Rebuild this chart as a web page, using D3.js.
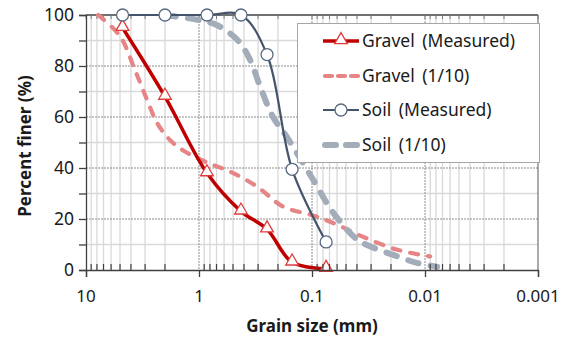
<!DOCTYPE html>
<html>
<head>
<meta charset="utf-8">
<script src="https://cdn.jsdelivr.net/npm/d3@7"></script>
<style>
  html, body { margin: 0; padding: 0; background: #fff; }
  svg { display: block; font-family: 'Noto Sans', 'DejaVu Sans', sans-serif; }
</style>
</head>
<body>
<svg id="chart" width="568" height="340"></svg>
<script>
// sieve sizes (mm) and % finer
const sieveSizes = [4.75, 2.0, 0.85, 0.425, 0.25, 0.15, 0.075];
const gravelMeasured = [95, 68, 38, 23, 16, 3, 0.5];
const soilMeasured = [100, 100, 100, 100, 84.5, 39.5, 11];

const gravelScaledSize = [7.8, 5.0, 3.7, 2.9, 2.37, 1.9, 1.45, 0.855, 0.53, 0.306, 0.181, 0.098, 0.06, 0.0375, 0.0178, 0.009];
const gravelScaledPct = [100, 91.7, 78.6, 67, 58, 52, 47.5, 42.2, 38.6, 32.7, 24.9, 21.4, 17.8, 13.5, 8, 5.3];

const soilScaledSize = [2.0, 1.0, 0.69, 0.452, 0.354, 0.288, 0.221, 0.166, 0.098, 0.065, 0.040, 0.0307, 0.0177, 0.0118, 0.0078];
const soilScaledPct = [100, 98, 96, 90, 82.5, 72, 60, 52, 35.5, 22.5, 12, 9.3, 5.4, 2.8, 1.3];

const xTicks = [10, 1, 0.1, 0.01, 0.001];
const xTickLabels = ['10', '1', '0.1', '0.01', '0.001'];
const yTicks = [0, 20, 40, 60, 80, 100];
const legendNames = ['Gravel (Measured)', 'Gravel (1/10)', 'Soil (Measured)', 'Soil (1/10)'];

const L = 86, R = 538, T = 15, B = 270;
const svg = d3.select('#chart');
const x = d3.scaleLog().domain([10, 0.001]).range([L, R]);
const y = d3.scaleLinear().domain([0, 100]).range([B, T]);

// minor positions 2..9 in each decade
const minorX = [];
[1, 0.1, 0.01, 0.001].forEach(d => { for (let k = 2; k <= 9; k++) minorX.push(k * d); });
const minorY = [10, 30, 50, 70, 90];

// grid
const grid = svg.append('g');
grid.selectAll('.vmin').data(minorX).join('line')
  .attr('x1', d => x(d)).attr('x2', d => x(d)).attr('y1', T).attr('y2', B)
  .attr('stroke', '#d9d9d9').attr('stroke-width', 1.3);
grid.selectAll('.hmin').data(minorY).join('line')
  .attr('x1', L).attr('x2', R).attr('y1', d => y(d)).attr('y2', d => y(d))
  .attr('stroke', '#d9d9d9').attr('stroke-width', 1.3);
grid.selectAll('.vmaj').data(xTicks.slice(1, 4)).join('line')
  .attr('x1', d => x(d)).attr('x2', d => x(d)).attr('y1', T).attr('y2', B)
  .attr('stroke', '#8c8c8c').attr('stroke-width', 1).attr('stroke-dasharray', '2,1');
grid.selectAll('.hmaj').data(yTicks.slice(1, 5)).join('line')
  .attr('x1', L).attr('x2', R).attr('y1', d => y(d)).attr('y2', d => y(d))
  .attr('stroke', '#8c8c8c').attr('stroke-width', 1).attr('stroke-dasharray', '2,1');

// frame: right border, top border with small ticks
svg.append('line').attr('x1', R).attr('x2', R).attr('y1', T).attr('y2', B)
  .attr('stroke', '#7f7f7f').attr('stroke-width', 1.3);
svg.append('line').attr('x1', L).attr('x2', R).attr('y1', T).attr('y2', T)
  .attr('stroke', '#404040').attr('stroke-width', 1.3);
svg.append('g').selectAll('line').data(minorX.concat(xTicks)).join('line')
  .attr('x1', d => x(d)).attr('x2', d => x(d)).attr('y1', T).attr('y2', T + 4)
  .attr('stroke', '#7f7f7f').attr('stroke-width', 1);

// series
const line = (xs) => d3.line()
  .x((d, i) => x(xs[i])).y(d => y(d))
  .curve(d3.curveCatmullRom.alpha(0.5));

const series = svg.append('g');
series.append('path').attr('d', line(gravelScaledSize)(gravelScaledPct))
  .attr('fill', 'none').attr('stroke', '#e58586').attr('stroke-width', 4.2)
  .attr('stroke-linecap', 'round').attr('stroke-dasharray', '8,10');
series.append('path').attr('d', line(soilScaledSize)(soilScaledPct))
  .attr('fill', 'none').attr('stroke', '#a3acb9').attr('stroke-width', 6)
  .attr('stroke-linecap', 'round').attr('stroke-dasharray', '11,12');
series.append('path').attr('d', line(sieveSizes)(gravelMeasured))
  .attr('fill', 'none').attr('stroke', '#c00000').attr('stroke-width', 3.5);
series.append('path').attr('d', line(sieveSizes)(soilMeasured))
  .attr('fill', 'none').attr('stroke', '#44546a').attr('stroke-width', 2.2);

const tri = d3.symbol().type(d3.symbolTriangle).size(70);
series.selectAll('.tri').data(gravelMeasured).join('path')
  .attr('transform', (d, i) => `translate(${x(sieveSizes[i])},${y(d) - 1})`)
  .attr('d', tri).attr('fill', '#fff').attr('stroke', '#e03c3c').attr('stroke-width', 1.3);
series.selectAll('.circ').data(soilMeasured).join('circle')
  .attr('cx', (d, i) => x(sieveSizes[i])).attr('cy', d => y(d)).attr('r', 6)
  .attr('fill', '#fff').attr('stroke', '#5a6a80').attr('stroke-width', 1.3);

// axes
const yAxis = svg.append('g').attr('transform', `translate(${L},0)`)
  .call(d3.axisLeft(y).tickValues(d3.range(0, 101, 10)).tickSize(7).tickFormat(''));
yAxis.select('.domain').attr('stroke', '#404040').attr('stroke-width', 1.3);
yAxis.selectAll('.tick line').attr('stroke', '#404040').attr('stroke-width', 1.3);
svg.append('g').selectAll('text').data(yTicks).join('text')
  .attr('x', L - 12).attr('y', d => y(d)).attr('dy', '0.35em')
  .attr('text-anchor', 'end').attr('font-size', 17.5).attr('fill', '#1a1a1a')
  .text(d => d);

const xAxis = svg.append('g').attr('transform', `translate(0,${B})`)
  .call(d3.axisBottom(x).tickValues(xTicks).tickSize(7).tickFormat(''));
xAxis.select('.domain').attr('stroke', '#404040').attr('stroke-width', 1.3);
xAxis.selectAll('.tick line').attr('stroke', '#404040').attr('stroke-width', 1.3);
svg.append('g').selectAll('line').data(minorX).join('line')
  .attr('x1', d => x(d)).attr('x2', d => x(d)).attr('y1', B).attr('y2', B - 6)
  .attr('stroke', '#404040').attr('stroke-width', 1.2);
svg.append('g').selectAll('text').data(xTicks).join('text')
  .attr('x', d => x(d)).attr('y', 302)
  .attr('text-anchor', 'middle').attr('font-size', 17).attr('fill', '#1a1a1a')
  .text((d, i) => xTickLabels[i]);

svg.append('text').attr('x', 312).attr('y', 332).attr('text-anchor', 'middle')
  .attr('font-size', 17).attr('font-weight', 'bold').attr('fill', '#1a1a1a')
  .text('Grain size (mm)');
svg.append('text').attr('transform', 'translate(31,146) rotate(-90)')
  .attr('text-anchor', 'middle').attr('font-size', 17).attr('font-weight', 'bold')
  .attr('fill', '#1a1a1a').text('Percent finer (%)');

// legend
const lg = svg.append('g');
lg.append('rect').attr('x', 297.5).attr('y', 23.5).attr('width', 242).attr('height', 139)
  .attr('fill', '#fff').attr('stroke', '#a6a6a6').attr('stroke-width', 1);
const rowY = [41, 76, 110, 145];
const styles = [
  { stroke: '#c00000', w: 3.5, dash: null },
  { stroke: '#e58586', w: 4.2, dash: '7,6', cap: 'round' },
  { stroke: '#44546a', w: 2.2, dash: null },
  { stroke: '#a3acb9', w: 6, dash: '11,10', cap: 'round' }
];
legendNames.forEach((name, i) => {
  const s = styles[i];
  lg.append('line').attr('x1', i % 2 ? 325 : 323).attr('x2', 359).attr('y1', rowY[i]).attr('y2', rowY[i])
    .attr('stroke', s.stroke).attr('stroke-width', s.w)
    .attr('stroke-dasharray', s.dash).attr('stroke-linecap', s.cap || 'butt');
  lg.append('text').attr('x', 362).attr('y', rowY[i]).attr('dy', '0.35em')
    .attr('font-size', 17.5).attr('fill', '#1a1a1a').attr('word-spacing', 3).text(name);
});
lg.append('path').attr('transform', `translate(341,${rowY[0] - 1})`).attr('d', tri)
  .attr('fill', '#fff').attr('stroke', '#e03c3c').attr('stroke-width', 1.3);
lg.append('circle').attr('cx', 341).attr('cy', rowY[2]).attr('r', 6)
  .attr('fill', '#fff').attr('stroke', '#5a6a80').attr('stroke-width', 1.3);
</script>
</body>
</html>
